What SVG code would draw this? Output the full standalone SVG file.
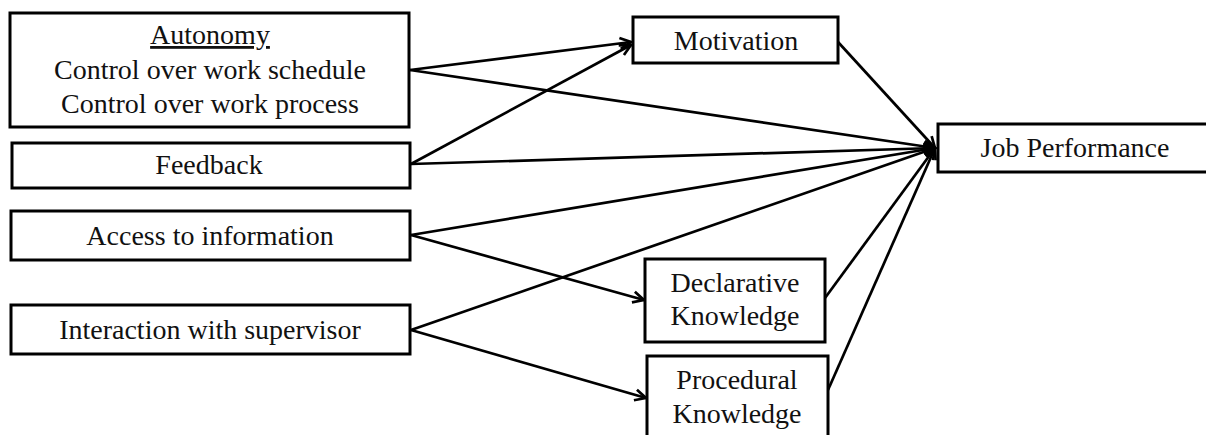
<svg xmlns="http://www.w3.org/2000/svg" width="1206" height="435" viewBox="0 0 1206 435">
<style>
.box{fill:#fff;stroke:#000;stroke-width:3}
.t{font-family:"Liberation Serif","Times New Roman",serif;font-size:28px;fill:#111;text-anchor:middle}
.c{stroke:#000;stroke-width:2.7;fill:none;marker-end:url(#arr)}
</style>
<defs>
<marker id="arr" viewBox="0 0 14 14" refX="12.5" refY="7" markerWidth="14" markerHeight="14" markerUnits="userSpaceOnUse" orient="auto">
<path d="M1.5,1.5 L12.5,7 L1.5,12.5" fill="none" stroke="#000" stroke-width="2.7" stroke-linejoin="miter"/>
</marker>
</defs>
<rect width="1206" height="435" fill="#fff"/>
<g id="connectors">
<line class="c" x1="410" y1="70" x2="631" y2="42"/>
<line class="c" x1="410" y1="70" x2="935" y2="148"/>
<line class="c" x1="411" y1="164" x2="631" y2="45"/>
<line class="c" x1="411" y1="164" x2="935" y2="148"/>
<line class="c" x1="838" y1="42" x2="935" y2="148"/>
<line class="c" x1="411" y1="235" x2="935" y2="148"/>
<line class="c" x1="411" y1="235" x2="644" y2="300"/>
<line class="c" x1="411" y1="330" x2="935" y2="148"/>
<line class="c" x1="411" y1="330" x2="646" y2="398"/>
<line class="c" x1="825" y1="298" x2="935" y2="148"/>
<line class="c" x1="828" y1="390" x2="935" y2="148"/>
</g>
<g id="autonomy">
<rect class="box" x="10" y="13" width="399" height="114"/>
<text class="t" x="210" y="44" text-decoration="underline">Autonomy</text>
<text class="t" x="210" y="79">Control over work schedule</text>
<text class="t" x="210" y="113">Control over work process</text>
</g>
<g id="feedback">
<rect class="box" x="12" y="143" width="398" height="45"/>
<text class="t" x="209" y="174">Feedback</text>
</g>
<g id="access">
<rect class="box" x="11" y="211" width="399" height="49"/>
<text class="t" x="210" y="245">Access to information</text>
</g>
<g id="interaction">
<rect class="box" x="11" y="305" width="399" height="49"/>
<text class="t" x="210" y="339">Interaction with supervisor</text>
</g>
<g id="motivation">
<rect class="box" x="633" y="17" width="205" height="46"/>
<text class="t" x="736" y="50">Motivation</text>
</g>
<g id="jobperformance">
<rect class="box" x="938" y="124" width="280" height="48"/>
<text class="t" x="1075" y="157">Job Performance</text>
</g>
<g id="declarative">
<rect class="box" x="645" y="259" width="180" height="83"/>
<text class="t" x="735" y="292">Declarative</text>
<text class="t" x="735" y="325">Knowledge</text>
</g>
<g id="procedural">
<rect class="box" x="647" y="356" width="181" height="92"/>
<text class="t" x="737" y="389">Procedural</text>
<text class="t" x="737" y="423">Knowledge</text>
</g>
</svg>
